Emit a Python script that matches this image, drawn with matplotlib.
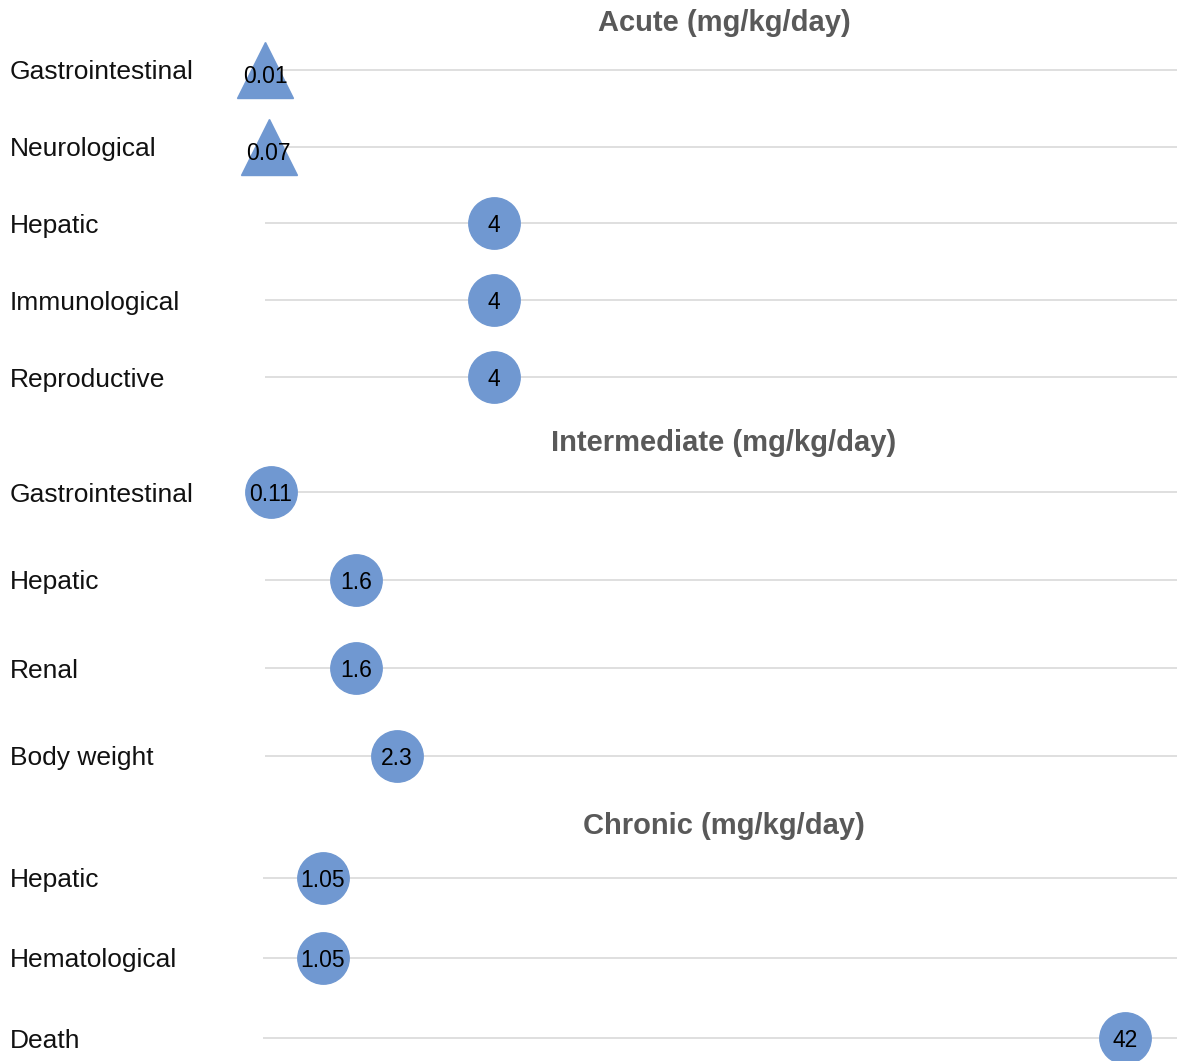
import numpy as np
import matplotlib.pyplot as plt
import matplotlib.transforms as mtransforms

plt.rcParams['font.family'] = ['Liberation Sans', 'DejaVu Sans']

# data
acute_labels = ['Gastrointestinal', 'Neurological', 'Hepatic', 'Immunological', 'Reproductive']
acute_values = [0.01, 0.07, 4, 4, 4]
acute_markers = ['^', '^', 'o', 'o', 'o']

inter_labels = ['Gastrointestinal', 'Hepatic', 'Renal', 'Body weight']
inter_values = [0.11, 1.6, 1.6, 2.3]
inter_markers = ['o', 'o', 'o', 'o']

chronic_labels = ['Hepatic', 'Hematological', 'Death']
chronic_values = [1.05, 1.05, 42]
chronic_markers = ['o', 'o', 'o']

W, H = 1177, 1061
fig = plt.figure(figsize=(W / 100, H / 100), dpi=100)

blue = '#7098d1'
grid_col = '#d9d9d9'
title_col = '#595959'


def make_panel(top_px, bottom_px, left_px, xlim, ylim, labels, values, markers, title, title_y):
    ax = fig.add_axes([left_px / W, 1 - bottom_px / H, (W - left_px) / W, (bottom_px - top_px) / H])
    rows = np.arange(len(labels))
    for r, v, m in zip(rows, values, markers):
        if m == '^':
            ax.plot(v, r, marker='^', markersize=40, color=blue, zorder=3, clip_on=False)
            ax.annotate(str(v), (v, r), xytext=(0, -3), textcoords='offset points',
                        ha='center', va='center_baseline', fontsize=16.5, zorder=4,
                        annotation_clip=False)
        else:
            ax.plot(v, r, marker='o', markersize=37, color=blue, zorder=3, clip_on=False)
            ax.annotate(str(v), (v, r), ha='center', va='center_baseline', fontsize=16.5,
                        zorder=4, annotation_clip=False)
    ax.set_xlim(*xlim)
    ax.set_ylim(*ylim)
    ax.set_yticks(rows)
    ax.set_xticks([])
    ax.grid(axis='y', color=grid_col, linewidth=1.2)
    ax.tick_params(left=False, labelleft=False)
    for s in ax.spines.values():
        s.set_visible(False)
    trans = mtransforms.blended_transform_factory(fig.transFigure, ax.transData)
    for r, lab in zip(rows, labels):
        ax.text(10 / W, r, lab, transform=trans, ha='left', va='center_baseline',
                fontsize=19, color='#111111')
    fig.text(724 / W, 1 - title_y / H, title, ha='center', va='center', fontsize=21,
             fontweight='bold', color=title_col)
    return ax


make_panel(31.6, 415.4, 264.7, (0, 15.92), (4.5, -0.5), acute_labels, acute_values,
           acute_markers, 'Acute (mg/kg/day)', 23)
make_panel(448, 800, 264.7, (0, 15.92), (3.5, -0.5), inter_labels, inter_values,
           inter_markers, 'Intermediate (mg/kg/day)', 443)
make_panel(838, 1061, 263, (-2.0, 44.67), (2.2875, -0.5), chronic_labels, chronic_values,
           chronic_markers, 'Chronic (mg/kg/day)', 826)

plt.savefig('out.png', dpi=100)
